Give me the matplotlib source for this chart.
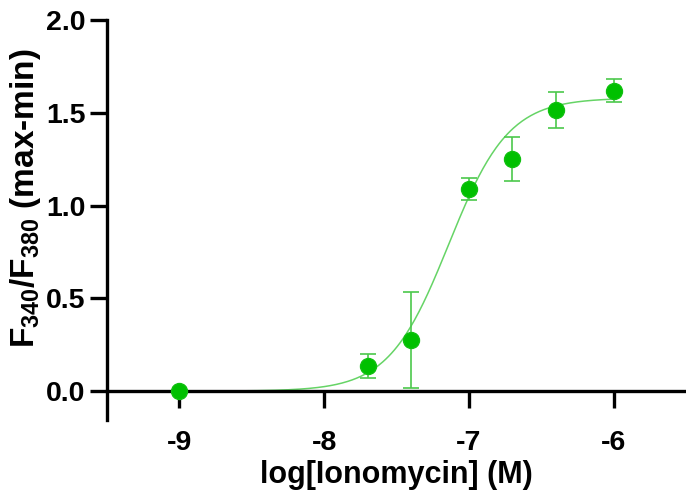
import numpy as np
import matplotlib
matplotlib.use('Agg')
import matplotlib.pyplot as plt

plt.rcParams['font.family'] = ['Liberation Sans', 'DejaVu Sans']
plt.rcParams['font.weight'] = 'bold'
plt.rcParams['mathtext.fontset'] = 'custom'
plt.rcParams['mathtext.rm'] = 'Liberation Sans:bold'
plt.rcParams['mathtext.bf'] = 'Liberation Sans:bold'
plt.rcParams['mathtext.default'] = 'rm'

# 数据：log浓度, 均值, 误差
log_conc = [-9.0, -7.7, -7.4, -7.0, -6.7, -6.4, -6.0]
ratio = [0.0, 0.135, 0.275, 1.09, 1.25, 1.515, 1.62]
err = [0.0, 0.065, 0.26, 0.06, 0.12, 0.095, 0.06]

# 拟合曲线参数 (Hill)
bottom = 0.0
top = 1.58
log_ec50 = -7.14
hill = 2.1

xticks = [-9, -8, -7, -6]
yticks = [0.0, 0.5, 1.0, 1.5, 2.0]

fig = plt.figure(figsize=(6.86, 4.94), dpi=100)
ax = fig.add_axes([0.156, 0.150, 0.844, 0.8095])

xf = np.linspace(log_conc[0], log_conc[-1], 300)
yf = bottom + (top - bottom) / (1 + 10 ** ((log_ec50 - xf) * hill))
ax.plot(xf, yf, color='#66d466', lw=1.1, zorder=2)

ax.errorbar(log_conc, ratio, yerr=err, fmt='none', ecolor='#4cc84c',
            elinewidth=1.2, capsize=5.5, capthick=1.2, zorder=3)
ax.plot(log_conc, ratio, 'o', color='#00c000', ms=11.5, mec='#10c010',
        zorder=4, clip_on=False)

ax.set_xlim(-9.5, -5.5)
ax.set_ylim(-0.155, 2.0)
ax.spines['top'].set_visible(False)
ax.spines['right'].set_visible(False)
ax.spines['bottom'].set_position(('data', 0))
for s in ['left', 'bottom']:
    ax.spines[s].set_linewidth(2.4)
ax.set_xticks(xticks)
ax.set_xticklabels([str(t) for t in xticks])
ax.set_yticks(yticks)
ax.set_yticklabels([f'{t:.1f}' for t in yticks])
ax.tick_params(axis='both', width=2.4, length=12, labelsize=20.5, pad=3.5)
ax.tick_params(axis='x', pad=16)

ax.set_xlabel('log[Ionomycin] (M)', fontsize=22, fontweight='bold')
ax.set_ylabel('F$_{340}$/F$_{380}$ (max-min)', fontsize=24, fontweight='bold')
ax.yaxis.set_label_coords(-0.11, 0.554)
ax.xaxis.set_label_coords(0.5, -0.10)

fig.savefig('out.png', dpi=100)
